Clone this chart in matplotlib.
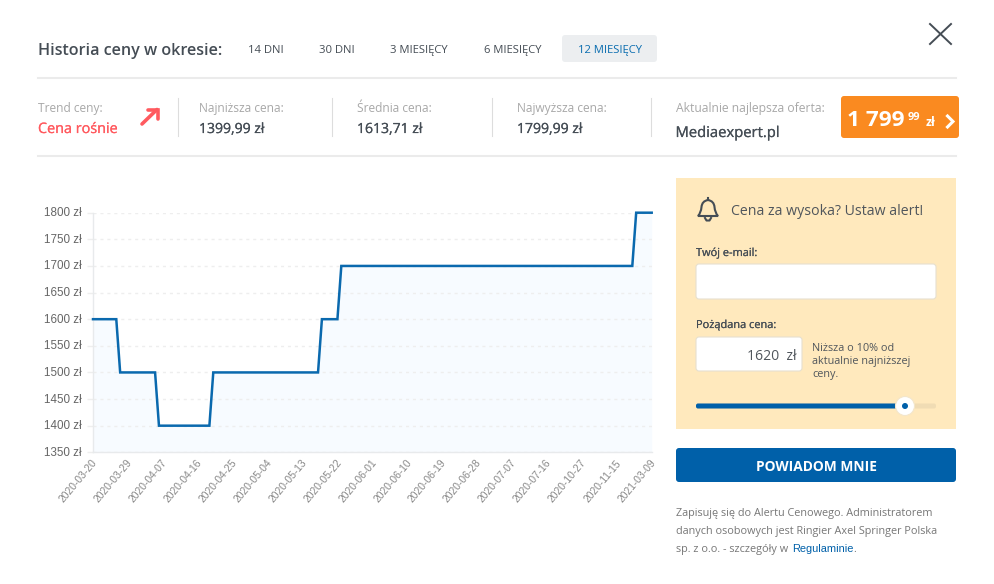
import matplotlib
matplotlib.use("Agg")
import matplotlib.pyplot as plt
import matplotlib.patheffects as pe
from matplotlib.patches import FancyBboxPatch, Rectangle, Circle, PathPatch
from matplotlib.path import Path
from matplotlib.transforms import ScaledTranslation

# dane, jeden punkt na dzien kategorii
ceny = [
    1600, 1600, 1600, 1600, 1600, 1600, 1600, 1500, 1500, 1500, 1500, 1500,
    1500, 1500, 1500, 1500, 1500, 1400, 1400, 1400, 1400, 1400, 1400, 1400,
    1400, 1400, 1400, 1400, 1400, 1400, 1400, 1500, 1500, 1500, 1500, 1500,
    1500, 1500, 1500, 1500, 1500, 1500, 1500, 1500, 1500, 1500, 1500, 1500,
    1500, 1500, 1500, 1500, 1500, 1500, 1500, 1500, 1500, 1500, 1500, 1600,
    1600, 1600, 1600, 1600, 1700, 1700, 1700, 1700, 1700, 1700, 1700, 1700,
    1700, 1700, 1700, 1700, 1700, 1700, 1700, 1700, 1700, 1700, 1700, 1700,
    1700, 1700, 1700, 1700, 1700, 1700, 1700, 1700, 1700, 1700, 1700, 1700,
    1700, 1700, 1700, 1700, 1700, 1700, 1700, 1700, 1700, 1700, 1700, 1700,
    1700, 1700, 1700, 1700, 1700, 1700, 1700, 1700, 1700, 1700, 1700, 1700,
    1700, 1700, 1700, 1700, 1700, 1700, 1700, 1700, 1700, 1700, 1700, 1700,
    1700, 1700, 1700, 1700, 1700, 1700, 1700, 1700, 1800, 1800, 1800, 1800,
    1800,
]
daty = ["2020-03-20", "2020-03-29", "2020-04-07", "2020-04-16", "2020-04-25",
        "2020-05-04", "2020-05-13", "2020-05-22", "2020-06-01", "2020-06-10",
        "2020-06-19", "2020-06-28", "2020-07-07", "2020-07-16", "2020-10-27",
        "2020-11-15", "2021-03-09"]
poziomy_y = [1350, 1400, 1450, 1500, 1550, 1600, 1650, 1700, 1750, 1800]
zakladki = ["14 DNI", "30 DNI", "3 MIESIĘCY", "6 MIESIĘCY", "12 MIESIĘCY"]
statystyki = ["Najniższa cena:", "Średnia cena:", "Najwyższa cena:"]
wartosci = ["1399,99 zł", "1613,71 zł", "1799,99 zł"]

W, H = 995, 584
UI = "Open Sans"
ARIAL = "Liberation Sans"
CIEMNY = "#454d55"
SZARY = "#a8a8a8"
NIEBIESKI = "#0060a9"

fig = plt.figure(figsize=(W / 100, H / 100), dpi=100, facecolor="white")

# warstwa interfejsu w pikselach obrazka
ui = fig.add_axes([0, 0, 1, 1])
ui.set_xlim(0, W)
ui.set_ylim(H, 0)
ui.axis("off")


def napis(x, y, s, px, kolor=CIEMNY, waga="normal", ha="left", rodzina=UI, obrys=0):
    t = ui.text(x, y, s, fontsize=px * 0.72, color=kolor, fontweight=waga, ha=ha,
                va="baseline", family=rodzina)
    # Open Sans nie ma tu wagi medium, wiec cienki obrys ja udaje
    if obrys:
        t.set_path_effects([pe.withStroke(linewidth=obrys, foreground=kolor)])


def prostokat(x0, y0, x1, y1, kolor, krawedz="none", r=3):
    ui.add_patch(FancyBboxPatch((x0 + r, y0 + r), x1 - x0 - 2 * r, y1 - y0 - 2 * r,
                                boxstyle=f"round,pad={r},rounding_size={r}",
                                facecolor=kolor, edgecolor=krawedz, lw=0.8))


# naglowek
napis(38, 55, "Historia ceny w okresie:", 16.1, waga=600)
prostokat(562, 35, 657, 62, "#eceef0")
for x, s in zip([248, 319, 390, 484, 578], zakladki):
    napis(x, 53, s, 11.2, kolor="#0a6db0" if s.startswith("12") else CIEMNY)
ui.plot([930, 951], [24, 44], color=CIEMNY, lw=1.4)
ui.plot([930, 951], [44, 24], color=CIEMNY, lw=1.4)
ui.plot([38, 956], [78, 78], color="#ebebeb", lw=1.5)
ui.plot([38, 956], [156, 156], color="#ebebeb", lw=1.5)

# pasek statystyk
for x in [178, 332, 492, 651]:
    ui.plot([x, x], [98, 136], color="#dddddd", lw=0.8)
napis(38, 112, "Trend ceny:", 12, kolor=SZARY)
napis(38, 133, "Cena rośnie", 14.4, kolor="#ff5a5f", obrys=0.15)
ui.plot([142, 157], [124, 109.5], color="#ff5a5f", lw=2.6, solid_capstyle="round")
ui.plot([148, 157.5, 157.5], [109.5, 109.5, 119], color="#ff5a5f", lw=2.6,
        solid_joinstyle="miter", solid_capstyle="round")
for x, s, v in zip([199, 357, 517], statystyki, wartosci):
    napis(x, 112, s, 12, kolor=SZARY)
    napis(x, 133, v, 14, obrys=0.15)
napis(675.5, 112, "Aktualnie najlepsza oferta:", 12.1, kolor=SZARY)
napis(675.5, 137, "Mediaexpert.pl", 14.8, obrys=0.15)

prostokat(841, 96, 959, 138, "#fa8a20")
napis(847, 126, "1 799", 22.5, kolor="white", waga="bold")
napis(908, 120, "99", 11, kolor="white", waga="bold")
napis(926, 126, "zł", 12, kolor="white", waga="bold")
ui.plot([947.5, 953, 947.5], [116, 121.5, 127], color="white", lw=2.2,
        solid_joinstyle="miter")

# panel alertu
ui.add_patch(Rectangle((676, 178), 280, 251, facecolor="#ffe9bd", edgecolor="none"))
dzwonek = Path(
    [(698, 216), (701, 213), (701.5, 207), (702, 201), (708, 200), (714, 201),
     (714.5, 207), (715, 213), (718, 216), (698, 216)],
    [Path.MOVETO, Path.CURVE3, Path.LINETO, Path.CURVE3, Path.LINETO, Path.CURVE3,
     Path.LINETO, Path.CURVE3, Path.LINETO, Path.CLOSEPOLY])
ui.add_patch(PathPatch(dzwonek, facecolor="none", edgecolor=CIEMNY, lw=1.5))
ui.plot([708, 708], [198, 200], color=CIEMNY, lw=1.5)
ui.plot([705, 706.5, 709.5, 711], [218, 220.5, 220.5, 218], color=CIEMNY, lw=1.5)
napis(731, 215, "Cena za wysoka? Ustaw alert!", 14.1, kolor="#50565c")
napis(696, 256, "Twój e-mail:", 11, obrys=0.12)
prostokat(696, 264, 936, 299, "white", krawedz="#e6e0d0")
napis(696, 328, "Pożądana cena:", 11, obrys=0.12)
prostokat(696, 337, 802, 371, "white", krawedz="#e6e0d0")
napis(797, 360, "1620  zł", 14, ha="right", kolor="#50565c")
for y, s in zip([351, 364, 377], ["Niższa o 10% od", "aktualnie najniższej", "ceny."]):
    napis(812, y, s, 10.9, kolor="#50565c")
prostokat(696, 403.5, 936, 408.5, "#f0dcb4", r=2)
prostokat(696, 403.5, 905, 408.5, NIEBIESKI, r=2)
ui.add_patch(Circle((905, 406), 9.5, facecolor="white", edgecolor="#f3e6cb", lw=0.8))
ui.add_patch(Circle((905, 406), 3, facecolor=NIEBIESKI, edgecolor="none"))

prostokat(676, 448, 956, 482, NIEBIESKI)
napis(816, 471, "POWIADOM MNIE", 13.8, kolor="white", waga="bold", ha="center")
for y, s in zip([516, 534, 552], ["Zapisuję się do Alertu Cenowego. Administratorem",
                                  "danych osobowych jest Ringier Axel Springer Polska",
                                  "sp. z o.o. - szczegóły w"]):
    napis(676, y, s, 10.9, kolor="#777777")
napis(792, 552, "Regulaminie", 11, kolor=NIEBIESKI, rodzina=ARIAL)
napis(853.5, 552, ".", 11, kolor="#777777")

# wykres
x0, x1, y0, y1 = 93, 651.7, 212.7, 452.3
ax = fig.add_axes([x0 / W, 1 - y1 / H, (x1 - x0) / W, (y1 - y0) / H])
ax.patch.set_alpha(0)
dni = list(range(len(ceny)))
ax.fill_between(dni, ceny, 1350, color="#f7fbff", lw=0, zorder=1)
ax.plot(dni, ceny, color="#0a69ae", lw=1.8, zorder=3, clip_on=False,
        solid_joinstyle="miter")
ax.set_xlim(0, len(ceny) - 1)
ax.set_ylim(1350, 1800)
ax.set_yticks(poziomy_y)
ax.set_yticklabels([f"{p} zł" for p in poziomy_y], fontsize=8.4, color="#666666",
                   family=ARIAL)
ax.set_xticks(dni[::9])
ax.set_xticklabels(daty, rotation=50, ha="right", rotation_mode="anchor",
                   fontsize=7.4, color="#888888", family=ARIAL)
ax.tick_params(axis="y", length=4, width=1, color="#eeeeee", pad=4)
ax.tick_params(axis="x", length=0, pad=4)
# etykiety lekko przesuniete, jak w oryginale
for etykieta in ax.get_yticklabels():
    etykieta.set_transform(etykieta.get_transform() + ScaledTranslation(0, 1 / 100, fig.dpi_scale_trans))
for etykieta in ax.get_xticklabels():
    etykieta.set_transform(etykieta.get_transform() + ScaledTranslation(-1.5 / 100, 0, fig.dpi_scale_trans))
ax.grid(axis="y", color="#eeeeee", lw=1, ls=(0, (2.2, 2.8)), zorder=2)
for nazwa, spine in ax.spines.items():
    spine.set_visible(nazwa in ("left", "bottom"))
    spine.set_color("#e8eaec")
    spine.set_linewidth(1)

fig.savefig("out.png", dpi=100)
